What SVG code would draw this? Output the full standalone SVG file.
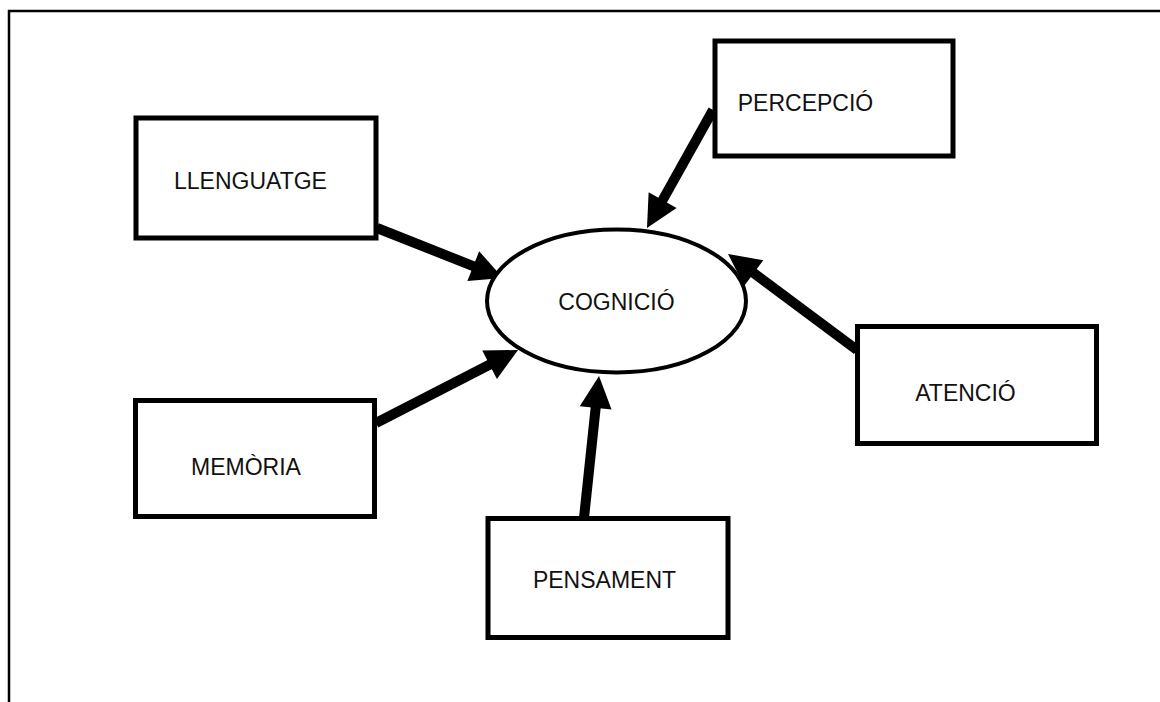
<svg xmlns="http://www.w3.org/2000/svg" width="1160" height="702" viewBox="0 0 1160 702">
  <style>
    .box { fill: #ffffff; stroke: #000000; stroke-width: 5; }
    .hub { fill: #ffffff; stroke: #000000; stroke-width: 4; }
    .label { font-family: "Liberation Sans", Arial, sans-serif; font-size: 23px; fill: #111111; text-anchor: middle; }
    .link { stroke: #000000; stroke-width: 10; fill: none; marker-end: url(#head); }
    .frame { stroke: #000000; stroke-width: 2.5; fill: none; }
  </style>
  <defs>
    <marker id="head" markerUnits="userSpaceOnUse" markerWidth="40" markerHeight="40" viewBox="-10 -20 40 40" refX="0" refY="0" orient="auto">
      <path d="M-8,-16 L24,0 L-8,16 Z" fill="#000000"/>
    </marker>
  </defs>
  <rect width="1160" height="702" fill="#ffffff"/>

  <!-- page frame: top and left edges -->
  <path class="frame" d="M9,702 L9,11 L1160,11"/>

  <!-- arrows pointing into the centre -->
  <g id="connectors">
    <line class="link" x1="377" y1="228" x2="480.7" y2="269.1"/>
    <line class="link" x1="713" y1="110" x2="658.7" y2="207.1"/>
    <line class="link" x1="857" y1="350" x2="747.3" y2="268.3"/>
    <line class="link" x1="376" y1="423" x2="496.7" y2="361"/>
    <line class="link" x1="584" y1="518" x2="596.5" y2="399.9"/>
  </g>

  <g id="cognicio">
    <ellipse class="hub" cx="616.5" cy="301" rx="129.5" ry="71.5"/>
    <text class="label" x="616.5" y="310">COGNICIÓ</text>
  </g>

  <g id="llenguatge">
    <rect class="box" x="136" y="118" width="240" height="120"/>
    <text class="label" x="250.5" y="189">LLENGUATGE</text>
  </g>

  <g id="percepcio">
    <rect class="box" x="715" y="41" width="238" height="115"/>
    <text class="label" x="805.5" y="111">PERCEPCIÓ</text>
  </g>

  <g id="atencio">
    <rect class="box" x="857.5" y="326.5" width="239" height="117"/>
    <text class="label" x="965.5" y="401">ATENCIÓ</text>
  </g>

  <g id="memoria">
    <rect class="box" x="135.5" y="400.5" width="239" height="116"/>
    <text class="label" x="246" y="475">MEMÒRIA</text>
  </g>

  <g id="pensament">
    <rect class="box" x="488" y="518.5" width="240" height="119"/>
    <text class="label" x="604.5" y="588">PENSAMENT</text>
  </g>
</svg>
